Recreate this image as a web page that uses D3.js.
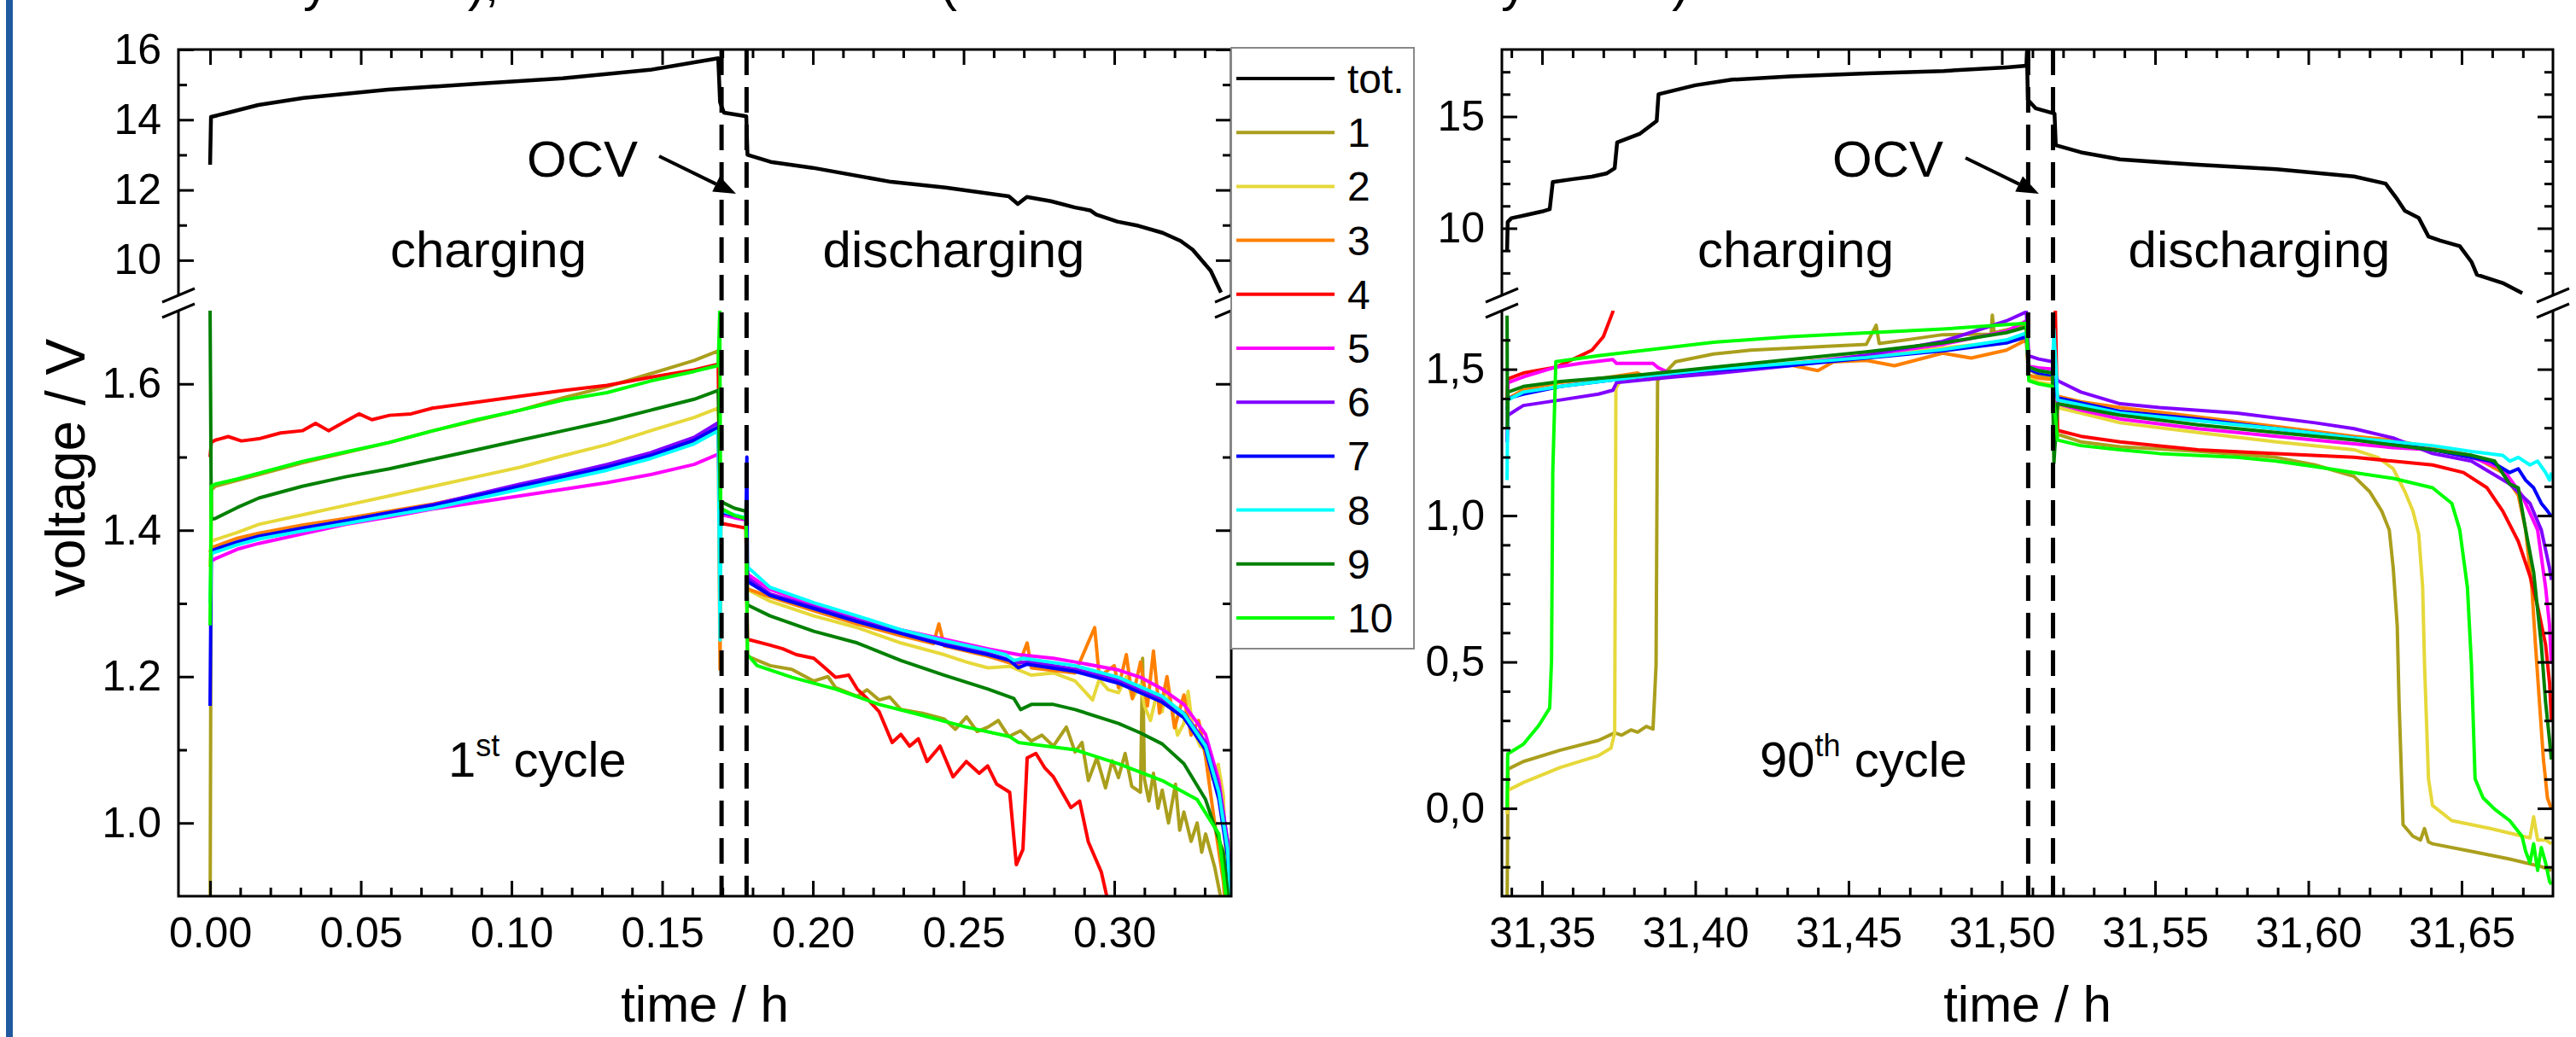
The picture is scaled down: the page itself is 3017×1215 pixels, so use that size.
<!DOCTYPE html>
<html>
<head>
<meta charset="utf-8">
<script src="https://cdn.jsdelivr.net/npm/d3@7"></script>
<style>
  body { margin: 0; background: #fff; }
  svg { display: block; }
</style>
</head>
<body>
<svg id="chart" width="3017" height="1215"></svg>
<script>
// ---- data: [time / h, voltage / V] ----
const cellNames = ["1", "2", "3", "4", "5", "6", "7", "8", "9", "10"];
const cellColors = ["#aa9f1d", "#e6d83a", "#ff8000", "#ff0000", "#ff00ff", "#8000ff", "#0000ff", "#00ffff", "#008000", "#00ff00"];

// 1st cycle
const c1Total = [[0,12.72],[0.0003,14.08],[0.006,14.2],[0.016,14.42],[0.031,14.62],[0.059,14.86],[0.088,15.02],[0.117,15.18],[0.146,15.42],[0.1686,15.75],[0.1692,14.5],[0.1705,14.2],[0.1779,14.1],[0.1783,13.0],[0.186,12.8],[0.2,12.63],[0.226,12.23],[0.244,12.07],[0.265,11.82],[0.268,11.6],[0.271,11.8],[0.279,11.68],[0.287,11.5],[0.292,11.42],[0.294,11.3],[0.301,11.1],[0.308,10.98],[0.316,10.78],[0.322,10.55],[0.326,10.3],[0.332,9.7],[0.3354,9.08]];
const c1Cell1 = [[0,0.85],[0.0004,1.455],[0.0017,1.46],[0.0162,1.476],[0.0306,1.492],[0.045,1.506],[0.0595,1.52],[0.074,1.536],[0.0884,1.55],[0.1028,1.564],[0.1173,1.581],[0.1317,1.596],[0.1462,1.614],[0.1606,1.632],[0.1686,1.645],[0.1693,1.425],[0.17,1.424],[0.174,1.419],[0.1778,1.415],[0.1783,1.228],[0.1858,1.215],[0.193,1.21],[0.2003,1.194],[0.205,1.2],[0.2075,1.185],[0.2147,1.173],[0.218,1.182],[0.222,1.168],[0.2255,1.172],[0.2292,1.155],[0.2364,1.15],[0.2436,1.142],[0.2473,1.128],[0.251,1.145],[0.2545,1.125],[0.2581,1.131],[0.2615,1.14],[0.265,1.118],[0.2689,1.126],[0.2725,1.112],[0.276,1.12],[0.2798,1.105],[0.2841,1.131],[0.287,1.097],[0.2893,1.11],[0.2914,1.058],[0.2942,1.089],[0.2971,1.048],[0.2993,1.085],[0.3014,1.062],[0.3036,1.095],[0.3058,1.05],[0.3087,1.042],[0.3094,1.225],[0.31,1.06],[0.3115,1.03],[0.313,1.068],[0.3145,1.02],[0.3159,1.045],[0.318,1.0],[0.3203,1.053],[0.3217,0.99],[0.3231,1.015],[0.3255,0.975],[0.3275,1.0],[0.329,0.96],[0.3303,0.985],[0.3333,0.94],[0.3362,0.88]];
const c1Cell2 = [[0,1.35],[0.0004,1.385],[0.0017,1.387],[0.009,1.397],[0.0162,1.408],[0.0306,1.421],[0.045,1.434],[0.0595,1.447],[0.074,1.46],[0.0884,1.473],[0.1028,1.486],[0.1173,1.502],[0.1317,1.517],[0.1462,1.536],[0.1606,1.554],[0.1686,1.567],[0.1693,1.425],[0.17,1.424],[0.174,1.419],[0.1778,1.415],[0.1783,1.319],[0.1858,1.303],[0.2003,1.283],[0.2147,1.267],[0.2292,1.246],[0.2436,1.23],[0.2509,1.22],[0.2581,1.212],[0.2653,1.214],[0.2725,1.202],[0.2798,1.205],[0.287,1.194],[0.2928,1.168],[0.295,1.196],[0.298,1.182],[0.3014,1.178],[0.304,1.2],[0.306,1.17],[0.3087,1.189],[0.31,1.16],[0.312,1.14],[0.314,1.175],[0.3159,1.152],[0.317,1.185],[0.319,1.16],[0.321,1.12],[0.3231,1.136],[0.3245,1.18],[0.326,1.13],[0.3285,1.105],[0.3303,1.1],[0.3325,1.06],[0.3345,1.08],[0.3362,1.037],[0.3376,0.88]];
const c1Cell3 = [[0,1.37],[0.0004,1.376],[0.0017,1.378],[0.009,1.389],[0.0162,1.396],[0.0306,1.407],[0.045,1.416],[0.0595,1.426],[0.074,1.436],[0.0884,1.448],[0.1028,1.46],[0.1173,1.472],[0.1317,1.485],[0.1462,1.501],[0.1606,1.521],[0.1686,1.54],[0.1692,1.21],[0.1695,1.425],[0.17,1.424],[0.174,1.419],[0.1778,1.415],[0.1783,1.32],[0.1858,1.309],[0.2003,1.29],[0.2147,1.272],[0.2292,1.256],[0.24,1.245],[0.2418,1.272],[0.2436,1.242],[0.2581,1.228],[0.2682,1.215],[0.2711,1.246],[0.2725,1.212],[0.287,1.205],[0.2935,1.267],[0.295,1.2],[0.3,1.215],[0.3014,1.185],[0.304,1.23],[0.306,1.17],[0.3087,1.22],[0.311,1.16],[0.313,1.235],[0.315,1.15],[0.3175,1.2],[0.32,1.13],[0.3231,1.175],[0.3255,1.12],[0.328,1.14],[0.3303,1.09],[0.3333,1.0],[0.3362,0.92],[0.337,0.88]];
const c1Cell4 = [[0,1.5],[0.0004,1.52],[0.0017,1.523],[0.006,1.528],[0.0104,1.522],[0.0162,1.525],[0.0234,1.533],[0.0306,1.536],[0.035,1.546],[0.0393,1.536],[0.045,1.549],[0.0494,1.559],[0.0537,1.551],[0.0595,1.557],[0.0667,1.559],[0.074,1.567],[0.0884,1.575],[0.1028,1.583],[0.1173,1.591],[0.1317,1.598],[0.1462,1.609],[0.1606,1.619],[0.1686,1.627],[0.1693,1.41],[0.17,1.409],[0.174,1.406],[0.1778,1.403],[0.1783,1.251],[0.1858,1.243],[0.19,1.238],[0.1945,1.23],[0.2003,1.225],[0.204,1.212],[0.2075,1.199],[0.2119,1.202],[0.2147,1.183],[0.218,1.17],[0.222,1.152],[0.2263,1.11],[0.2292,1.121],[0.2321,1.105],[0.235,1.115],[0.2379,1.084],[0.2422,1.105],[0.2465,1.063],[0.2509,1.084],[0.2552,1.068],[0.258,1.078],[0.261,1.053],[0.2653,1.042],[0.2675,0.943],[0.2697,0.964],[0.2711,1.089],[0.274,1.095],[0.277,1.075],[0.2798,1.063],[0.2856,1.021],[0.2885,1.03],[0.2914,0.974],[0.2957,0.933],[0.2986,0.88]];
const c1Cell5 = [[0,1.36],[0.0004,1.358],[0.0017,1.361],[0.009,1.374],[0.0162,1.382],[0.0306,1.395],[0.045,1.408],[0.0595,1.418],[0.074,1.429],[0.0884,1.438],[0.1028,1.447],[0.1173,1.456],[0.1317,1.465],[0.1462,1.476],[0.1606,1.49],[0.1686,1.504],[0.1693,1.422],[0.17,1.421],[0.174,1.417],[0.1778,1.414],[0.1783,1.34],[0.1858,1.319],[0.2003,1.298],[0.2147,1.28],[0.2292,1.264],[0.2436,1.251],[0.2581,1.238],[0.2682,1.23],[0.2798,1.225],[0.287,1.22],[0.3014,1.209],[0.3087,1.199],[0.3159,1.183],[0.3231,1.162],[0.3303,1.121],[0.3347,1.058],[0.3376,0.974],[0.3385,0.88]];
const c1Cell6 = [[0,1.37],[0.0004,1.37],[0.0017,1.372],[0.009,1.383],[0.0162,1.391],[0.0306,1.402],[0.045,1.413],[0.0595,1.424],[0.074,1.435],[0.0884,1.449],[0.1028,1.463],[0.1173,1.476],[0.1317,1.49],[0.1462,1.506],[0.1606,1.527],[0.1686,1.547],[0.1693,1.425],[0.17,1.424],[0.174,1.42],[0.1778,1.416],[0.1783,1.335],[0.1858,1.313],[0.2003,1.295],[0.2147,1.277],[0.2292,1.261],[0.2436,1.245],[0.2581,1.232],[0.2682,1.219],[0.2725,1.22],[0.287,1.21],[0.3014,1.195],[0.3159,1.17],[0.3231,1.15],[0.3303,1.11],[0.3347,1.05],[0.3376,0.975],[0.339,0.88]];
const c1Cell7 = [[0,1.16],[0.0004,1.372],[0.0017,1.374],[0.009,1.384],[0.0162,1.392],[0.0306,1.403],[0.045,1.413],[0.0595,1.424],[0.074,1.434],[0.0884,1.447],[0.1028,1.46],[0.1173,1.473],[0.1317,1.486],[0.1462,1.502],[0.1606,1.523],[0.1686,1.541],[0.1693,1.425],[0.17,1.424],[0.174,1.42],[0.1778,1.416],[0.1781,1.5],[0.1783,1.33],[0.1858,1.311],[0.2003,1.293],[0.2147,1.275],[0.2292,1.259],[0.2436,1.243],[0.2581,1.23],[0.2653,1.222],[0.2682,1.212],[0.2711,1.217],[0.287,1.207],[0.3014,1.191],[0.3159,1.165],[0.3231,1.144],[0.3303,1.1],[0.3347,1.032],[0.3376,0.954],[0.3383,0.88]];
const c1Cell8 = [[0,1.3],[0.0004,1.368],[0.0017,1.37],[0.009,1.38],[0.0162,1.388],[0.0306,1.399],[0.045,1.409],[0.0595,1.42],[0.074,1.43],[0.0884,1.443],[0.1028,1.456],[0.1173,1.469],[0.1317,1.482],[0.1462,1.498],[0.1606,1.518],[0.1686,1.536],[0.1692,1.25],[0.1695,1.427],[0.17,1.426],[0.174,1.421],[0.1778,1.417],[0.1783,1.35],[0.1858,1.322],[0.2003,1.301],[0.2147,1.283],[0.2292,1.264],[0.2436,1.249],[0.2581,1.236],[0.2639,1.23],[0.2668,1.222],[0.2697,1.225],[0.287,1.215],[0.3014,1.199],[0.3159,1.173],[0.3231,1.149],[0.3303,1.105],[0.3347,1.042],[0.3376,0.964],[0.3388,0.88]];
const c1Cell9 = [[0,1.7],[0.0004,1.415],[0.0017,1.416],[0.009,1.431],[0.0162,1.444],[0.0306,1.46],[0.045,1.473],[0.0595,1.484],[0.074,1.497],[0.0884,1.51],[0.1028,1.523],[0.1173,1.536],[0.1317,1.549],[0.1462,1.564],[0.1606,1.579],[0.1686,1.591],[0.1693,1.44],[0.17,1.438],[0.174,1.43],[0.1778,1.426],[0.1783,1.298],[0.1858,1.283],[0.2003,1.262],[0.2147,1.246],[0.2292,1.222],[0.2436,1.202],[0.2581,1.183],[0.2667,1.17],[0.2689,1.155],[0.2725,1.162],[0.2798,1.162],[0.287,1.155],[0.3014,1.136],[0.3087,1.123],[0.3159,1.108],[0.3231,1.081],[0.3303,1.032],[0.3362,0.959],[0.3383,0.88]];
const c1Cell10 = [[0,1.27],[0.0004,1.46],[0.0017,1.463],[0.009,1.47],[0.0162,1.478],[0.0306,1.494],[0.045,1.507],[0.0595,1.52],[0.074,1.536],[0.0884,1.551],[0.1028,1.564],[0.1173,1.578],[0.1317,1.588],[0.1462,1.604],[0.1606,1.617],[0.1686,1.625],[0.1691,1.7],[0.1694,1.43],[0.17,1.429],[0.174,1.42],[0.1778,1.416],[0.1783,1.23],[0.1815,1.215],[0.1931,1.199],[0.2075,1.183],[0.222,1.162],[0.2364,1.147],[0.2509,1.131],[0.2653,1.118],[0.2682,1.11],[0.287,1.1],[0.3014,1.081],[0.3159,1.058],[0.3275,1.032],[0.3347,0.985],[0.3376,0.88]];

// 90th cycle
const c90Total = [[31.3386,9.02],[31.3388,10.28],[31.34,10.45],[31.345,10.6],[31.35,10.75],[31.3525,10.85],[31.3535,12.07],[31.36,12.2],[31.3662,12.31],[31.371,12.45],[31.3737,12.69],[31.3745,13.84],[31.3818,14.22],[31.3874,14.8],[31.388,16.0],[31.4,16.4],[31.412,16.65],[31.431,16.8],[31.456,16.93],[31.481,17.04],[31.5015,17.2],[31.508,17.27],[31.5082,17.9],[31.5085,15.75],[31.511,15.37],[31.5172,15.13],[31.5176,13.72],[31.5258,13.4],[31.5386,13.08],[31.564,12.84],[31.5896,12.64],[31.6149,12.32],[31.6252,12.0],[31.629,11.3],[31.6315,10.78],[31.636,10.47],[31.6392,9.63],[31.643,9.45],[31.6494,9.2],[31.6532,8.5],[31.655,7.92],[31.6634,7.55],[31.6698,7.1]];
const c90Cell1 = [[31.3386,-0.35],[31.3389,0.134],[31.3439,0.16],[31.356,0.199],[31.3684,0.232],[31.3737,0.258],[31.376,0.25],[31.379,0.268],[31.3812,0.26],[31.384,0.28],[31.3862,0.271],[31.3868,0.4],[31.3872,0.49],[31.3877,1.461],[31.3936,1.526],[31.406,1.552],[31.418,1.565],[31.4308,1.572],[31.443,1.578],[31.4558,1.585],[31.459,1.65],[31.46,1.588],[31.47,1.602],[31.4807,1.618],[31.4965,1.62],[31.4969,1.685],[31.4975,1.625],[31.508,1.65],[31.5088,1.5],[31.512,1.48],[31.5165,1.474],[31.5182,1.278],[31.5258,1.252],[31.5386,1.235],[31.564,1.22],[31.5895,1.199],[31.6022,1.173],[31.6149,1.134],[31.62,1.082],[31.6239,1.016],[31.6264,0.951],[31.6277,0.82],[31.629,0.624],[31.6296,0.363],[31.6309,-0.056],[31.6341,-0.095],[31.6366,-0.108],[31.6379,-0.069],[31.6392,-0.115],[31.6405,-0.121],[31.6532,-0.147],[31.6657,-0.173],[31.676,-0.199],[31.6793,-0.212]];
const c90Cell2 = [[31.3386,-0.02],[31.3389,0.062],[31.3439,0.088],[31.356,0.14],[31.3684,0.18],[31.3725,0.206],[31.3737,0.258],[31.3741,1.435],[31.3756,1.461],[31.3936,1.48],[31.406,1.495],[31.4308,1.52],[31.4558,1.545],[31.4807,1.572],[31.4876,1.58],[31.5015,1.595],[31.508,1.605],[31.5088,1.474],[31.512,1.455],[31.5165,1.448],[31.5182,1.369],[31.5258,1.35],[31.5386,1.317],[31.564,1.284],[31.5895,1.252],[31.6149,1.225],[31.6226,1.199],[31.6277,1.16],[31.6315,1.082],[31.6341,1.016],[31.636,0.938],[31.6373,0.755],[31.6379,0.493],[31.6392,0.101],[31.6405,0.01],[31.6468,-0.042],[31.6594,-0.069],[31.6723,-0.101],[31.6735,-0.029],[31.6748,-0.108],[31.6774,-0.108],[31.6793,-0.121]];
const c90Cell3 = [[31.3386,1.38],[31.3389,1.4],[31.3439,1.43],[31.356,1.455],[31.37,1.47],[31.3812,1.487],[31.385,1.465],[31.39,1.49],[31.406,1.5],[31.42,1.51],[31.4308,1.515],[31.44,1.495],[31.445,1.525],[31.4558,1.53],[31.465,1.512],[31.4807,1.555],[31.49,1.538],[31.5015,1.565],[31.508,1.6],[31.5088,1.48],[31.512,1.47],[31.5165,1.465],[31.5182,1.408],[31.5258,1.389],[31.5386,1.369],[31.564,1.337],[31.5895,1.304],[31.6149,1.271],[31.6277,1.258],[31.6405,1.232],[31.6532,1.206],[31.6634,1.147],[31.6685,1.069],[31.6709,0.951],[31.6729,0.755],[31.6741,0.559],[31.6754,0.363],[31.6767,0.167],[31.678,0.036],[31.6793,-0.003]];
const c90Cell4 = [[31.3386,1.4],[31.3389,1.467],[31.3439,1.487],[31.3545,1.507],[31.3625,1.546],[31.3663,1.565],[31.37,1.611],[31.3731,1.696],[31.3745,1.85],[31.5172,1.85],[31.5182,1.291],[31.5258,1.271],[31.5386,1.252],[31.564,1.225],[31.5895,1.212],[31.6149,1.199],[31.6277,1.186],[31.6405,1.173],[31.6506,1.147],[31.6583,1.095],[31.6634,1.016],[31.6685,0.912],[31.6723,0.794],[31.6748,0.69],[31.6774,0.559],[31.6787,0.428],[31.6793,0.3]];
const c90Cell5 = [[31.3386,1.25],[31.3389,1.454],[31.3439,1.474],[31.3545,1.507],[31.3625,1.52],[31.3731,1.533],[31.3743,1.52],[31.3862,1.52],[31.3879,1.505],[31.3936,1.478],[31.406,1.49],[31.4308,1.518],[31.4558,1.548],[31.4807,1.585],[31.5015,1.63],[31.508,1.665],[31.5088,1.51],[31.512,1.505],[31.5165,1.5],[31.5182,1.382],[31.5258,1.36],[31.5386,1.33],[31.564,1.297],[31.5895,1.271],[31.6149,1.245],[31.6277,1.232],[31.6405,1.225],[31.6532,1.199],[31.6634,1.16],[31.6697,1.069],[31.6748,0.951],[31.6774,0.755],[31.6787,0.624],[31.6793,0.493]];
const c90Cell6 = [[31.3386,1.252],[31.3389,1.343],[31.3439,1.376],[31.356,1.395],[31.3684,1.415],[31.3731,1.428],[31.3743,1.454],[31.3862,1.467],[31.3936,1.474],[31.406,1.485],[31.4308,1.512],[31.4558,1.548],[31.4807,1.595],[31.5015,1.665],[31.508,1.696],[31.5088,1.546],[31.512,1.535],[31.5165,1.526],[31.5182,1.461],[31.5258,1.422],[31.5386,1.382],[31.5514,1.369],[31.5767,1.35],[31.6022,1.317],[31.6149,1.297],[31.6277,1.265],[31.6405,1.212],[31.6532,1.186],[31.6657,1.108],[31.6723,1.042],[31.676,0.951],[31.6787,0.82],[31.6793,0.78]];
const c90Cell7 = [[31.3386,1.36],[31.3389,1.4],[31.3439,1.415],[31.356,1.441],[31.3812,1.474],[31.406,1.497],[31.4308,1.513],[31.4558,1.538],[31.4807,1.563],[31.5015,1.59],[31.508,1.611],[31.5088,1.5],[31.512,1.487],[31.5165,1.48],[31.5182,1.402],[31.5386,1.356],[31.564,1.33],[31.5895,1.297],[31.6149,1.265],[31.6405,1.225],[31.6594,1.186],[31.6657,1.147],[31.6685,1.16],[31.6709,1.121],[31.6735,1.095],[31.676,1.042],[31.678,1.016],[31.6793,0.997]];
const c90Cell8 = [[31.3386,1.121],[31.3388,1.395],[31.3439,1.422],[31.356,1.441],[31.3812,1.474],[31.406,1.5],[31.4308,1.52],[31.4558,1.54],[31.4807,1.567],[31.5015,1.6],[31.508,1.624],[31.5088,1.507],[31.512,1.495],[31.5165,1.487],[31.517,1.637],[31.5182,1.395],[31.5386,1.35],[31.564,1.324],[31.5895,1.297],[31.6149,1.265],[31.6405,1.239],[31.6532,1.219],[31.6634,1.206],[31.6657,1.186],[31.6685,1.199],[31.6723,1.173],[31.6748,1.186],[31.6774,1.147],[31.6787,1.121],[31.6793,1.147]];
const c90Cell9 = [[31.3386,1.683],[31.3387,1.304],[31.3389,1.422],[31.3439,1.441],[31.356,1.458],[31.3812,1.48],[31.406,1.507],[31.4308,1.533],[31.4558,1.559],[31.4807,1.59],[31.5015,1.625],[31.508,1.644],[31.5088,1.507],[31.512,1.495],[31.5165,1.487],[31.517,1.18],[31.5182,1.382],[31.5386,1.343],[31.564,1.31],[31.5895,1.284],[31.6149,1.258],[31.6405,1.225],[31.6532,1.206],[31.6608,1.186],[31.6657,1.108],[31.6685,1.095],[31.6709,0.951],[31.6735,0.807],[31.676,0.559],[31.6774,0.363],[31.6787,0.232],[31.6793,0.167]];
const c90Cell10 = [[31.3386,0.0],[31.3388,0.186],[31.3439,0.219],[31.349,0.284],[31.3525,0.343],[31.3531,0.506],[31.3535,1.147],[31.3545,1.526],[31.3684,1.546],[31.406,1.592],[31.4308,1.611],[31.4558,1.624],[31.4807,1.637],[31.508,1.657],[31.5088,1.461],[31.512,1.45],[31.5165,1.441],[31.5182,1.258],[31.5258,1.239],[31.5386,1.225],[31.5514,1.212],[31.5767,1.199],[31.5895,1.186],[31.6022,1.167],[31.6149,1.147],[31.6277,1.127],[31.6405,1.095],[31.6468,1.042],[31.6494,0.951],[31.6519,0.755],[31.6532,0.493],[31.6544,0.101],[31.657,0.036],[31.6608,-0.003],[31.6657,-0.042],[31.6697,-0.095],[31.6709,-0.147],[31.6723,-0.186],[31.6735,-0.121],[31.6748,-0.212],[31.676,-0.134],[31.6774,-0.186],[31.6787,-0.25],[31.6793,-0.26]];

// tick labels / axis values
const c1TimeTicks = [0, 0.05, 0.10, 0.15, 0.20, 0.25, 0.30];
const c1TotTicks = [10, 12, 14, 16];
const c1CellTicks = [1.0, 1.2, 1.4, 1.6];
const c90TimeTicks = [31.35, 31.40, 31.45, 31.50, 31.55, 31.60, 31.65];
const c90TotTicks = [10, 15];
const c90CellTicks = [0.0, 0.5, 1.0, 1.5];
const c1OcvTimes = [0.1697, 0.1780];
const c90OcvTimes = [31.5086, 31.5167];

// ---- layout ----
const FONT = '"Liberation Sans", Arial, Helvetica, sans-serif';
const TOP = 58, BREAK_UP = 346, BREAK_LO = 364, BOTTOM = 1050;
const svg = d3.select("#chart");
const defs = svg.append("defs");

const comma = f => d => d3.format(f)(d).replace(".", ",");
const minorOf = (lo, hi, step, majors) =>
  d3.range(Math.round(lo / step), Math.round(hi / step) + 1).map(i => +(i * step).toFixed(4))
    .filter(v => !majors.some(m => Math.abs(m - v) < step / 10));

const panels = [
  {
    id: "p1", left: 209, right: 1442, xDomain: [-0.0105, 0.3388],
    upDomain: [9, 16], loDomain: [0.9, 1.7],
    total: c1Total, cells: [c1Cell1, c1Cell2, c1Cell3, c1Cell4, c1Cell5, c1Cell6, c1Cell7, c1Cell8, c1Cell9, c1Cell10],
    xMajor: c1TimeTicks, xMinor: minorOf(0.01, 0.33, 0.01, c1TimeTicks), xFmt: d3.format(".2f"),
    upMajor: c1TotTicks, upMinor: [11, 13, 15], upFmt: d3.format("d"),
    loMajor: c1CellTicks, loMinor: [1.1, 1.3, 1.5], loFmt: d3.format(".1f"),
    ocv: c1OcvTimes
  },
  {
    id: "p2", left: 1759, right: 2990, xDomain: [31.3369, 31.6798],
    upDomain: [7, 18], loDomain: [-0.3, 1.7],
    total: c90Total, cells: [c90Cell1, c90Cell2, c90Cell3, c90Cell4, c90Cell5, c90Cell6, c90Cell7, c90Cell8, c90Cell9, c90Cell10],
    xMajor: c90TimeTicks, xMinor: minorOf(31.34, 31.67, 0.01, c90TimeTicks), xFmt: comma(".2f"),
    upMajor: c90TotTicks, upMinor: [8, 9, 11, 12, 13, 14, 16, 17], upFmt: d3.format("d"),
    loMajor: c90CellTicks, loMinor: minorOf(-0.2, 1.6, 0.1, c90CellTicks), loFmt: comma(".1f"),
    ocv: c90OcvTimes
  }
];

function styleAxis(sel) {
  sel.select(".domain").remove();
  sel.selectAll(".tick line").attr("stroke", "#000").attr("stroke-width", 3);
  sel.selectAll(".tick text").attr("font-size", 50).attr("font-family", FONT).attr("fill", "#000");
}

function breakMark(g, ax) {
  g.append("polygon")
    .attr("points", [[ax - 19, BREAK_UP + 8], [ax + 19, BREAK_UP - 8], [ax + 19, BREAK_LO - 8], [ax - 19, BREAK_LO + 8]].join(" "))
    .attr("fill", "#fff");
  [BREAK_UP, BREAK_LO].forEach(y => g.append("line")
    .attr("x1", ax - 19).attr("y1", y + 8).attr("x2", ax + 19).attr("y2", y - 8)
    .attr("stroke", "#000").attr("stroke-width", 3));
}

function drawPanel(p) {
  const x = d3.scaleLinear().domain(p.xDomain).range([p.left, p.right]);
  const yUp = d3.scaleLinear().domain(p.upDomain).range([BREAK_UP, TOP]);
  const yLo = d3.scaleLinear().domain(p.loDomain).range([BOTTOM, BREAK_LO]);

  defs.append("clipPath").attr("id", p.id + "up").append("rect")
    .attr("x", p.left).attr("y", TOP).attr("width", p.right - p.left).attr("height", BREAK_UP - TOP);
  defs.append("clipPath").attr("id", p.id + "lo").append("rect")
    .attr("x", p.left).attr("y", BREAK_LO).attr("width", p.right - p.left).attr("height", BOTTOM - BREAK_LO);

  const g = svg.append("g");
  const lineLo = d3.line().x(d => x(d[0])).y(d => yLo(d[1]));
  const lineUp = d3.line().x(d => x(d[0])).y(d => yUp(d[1]));

  const cg = g.append("g").attr("clip-path", `url(#${p.id}lo)`);
  p.cells.forEach((s, i) => cg.append("path").attr("d", lineLo(s))
    .attr("fill", "none").attr("stroke", cellColors[i]).attr("stroke-width", 4)
    .attr("stroke-linejoin", "round"));

  g.append("g").attr("clip-path", `url(#${p.id}up)`).append("path").attr("d", lineUp(p.total))
    .attr("fill", "none").attr("stroke", "#000").attr("stroke-width", 4.5).attr("stroke-linejoin", "round");

  p.ocv.forEach(t => g.append("line")
    .attr("x1", x(t)).attr("x2", x(t)).attr("y1", TOP).attr("y2", BOTTOM)
    .attr("stroke", "#000").attr("stroke-width", 5).attr("stroke-dasharray", "30,14"));

  // axes: major and minor ticks, all pointing inward
  const ax = () => g.append("g");
  ax().attr("transform", `translate(0,${BOTTOM})`)
    .call(d3.axisBottom(x).tickValues(p.xMajor).tickSize(-18).tickPadding(24).tickFormat(p.xFmt)).call(styleAxis);
  ax().attr("transform", `translate(0,${BOTTOM})`)
    .call(d3.axisBottom(x).tickValues(p.xMinor).tickSize(-10).tickFormat("")).call(styleAxis);
  ax().attr("transform", `translate(0,${TOP})`)
    .call(d3.axisTop(x).tickValues(p.xMajor).tickSize(-18).tickFormat("")).call(styleAxis);
  ax().attr("transform", `translate(0,${TOP})`)
    .call(d3.axisTop(x).tickValues(p.xMinor).tickSize(-10).tickFormat("")).call(styleAxis);

  [[yUp, p.upMajor, p.upMinor, p.upFmt], [yLo, p.loMajor, p.loMinor, p.loFmt]].forEach(([y, maj, min, fmt]) => {
    ax().attr("transform", `translate(${p.left},0)`)
      .call(d3.axisLeft(y).tickValues(maj).tickSize(-18).tickPadding(20).tickFormat(fmt)).call(styleAxis);
    ax().attr("transform", `translate(${p.left},0)`)
      .call(d3.axisLeft(y).tickValues(min).tickSize(-10).tickFormat("")).call(styleAxis);
    ax().attr("transform", `translate(${p.right},0)`)
      .call(d3.axisRight(y).tickValues(maj).tickSize(-18).tickFormat("")).call(styleAxis);
    ax().attr("transform", `translate(${p.right},0)`)
      .call(d3.axisRight(y).tickValues(min).tickSize(-10).tickFormat("")).call(styleAxis);
  });

  // frame
  g.append("rect").attr("x", p.left).attr("y", TOP).attr("width", p.right - p.left).attr("height", BOTTOM - TOP)
    .attr("fill", "none").attr("stroke", "#000").attr("stroke-width", 3);
  breakMark(g, p.left);
  breakMark(g, p.right);

  g.append("text").attr("x", (p.left + p.right) / 2).attr("y", 1197)
    .attr("text-anchor", "middle").attr("font-size", 60).attr("font-family", FONT).text("time / h");
}

panels.forEach(drawPanel);

// ---- annotations ----
function label(x, y, txt, size = 60) {
  return svg.append("text").attr("x", x).attr("y", y).attr("text-anchor", "middle")
    .attr("font-size", size).attr("font-family", FONT).text(txt);
}
label(572, 313, "charging");
label(1117, 313, "discharging");
label(2103, 313, "charging");
label(2646, 313, "discharging");
label(682, 207, "OCV");
label(2211, 207, "OCV");

function arrow(x1, y1, x2, y2) {
  const dx = x2 - x1, dy = y2 - y1, len = Math.hypot(dx, dy), ux = dx / len, uy = dy / len;
  const bx = x2 - 26 * ux, by = y2 - 26 * uy;
  svg.append("line").attr("x1", x1).attr("y1", y1).attr("x2", bx).attr("y2", by)
    .attr("stroke", "#000").attr("stroke-width", 4);
  svg.append("polygon").attr("fill", "#000")
    .attr("points", [[x2, y2], [bx - 10 * uy, by + 10 * ux], [bx + 10 * uy, by - 10 * ux]].join(" "));
}
arrow(772, 183, 862, 227);
arrow(2302, 185, 2388, 227);

function cycleLabel(x, y, num, sup) {
  const t = svg.append("text").attr("x", x).attr("y", y).attr("font-size", 58).attr("font-family", FONT);
  t.append("tspan").text(num);
  t.append("tspan").attr("dy", -24).attr("font-size", 36).text(sup);
  t.append("tspan").attr("dy", 24).text(" cycle");
}
cycleLabel(525, 910, "1", "st");
cycleLabel(2061, 910, "90", "th");

svg.append("text").attr("transform", "translate(99,548) rotate(-90)").attr("text-anchor", "middle")
  .attr("font-size", 64).attr("font-family", FONT).text("voltage / V");

// ---- legend ----
const lg = svg.append("g");
lg.append("rect").attr("x", 1442).attr("y", 56).attr("width", 214).attr("height", 704)
  .attr("fill", "#fff").attr("stroke", "#888").attr("stroke-width", 2);
["tot."].concat(cellNames).forEach((name, i) => {
  const y = 92 + i * 63.2;
  lg.append("line").attr("x1", 1448).attr("x2", 1563).attr("y1", y).attr("y2", y)
    .attr("stroke", i === 0 ? "#000" : cellColors[i - 1]).attr("stroke-width", 4);
  lg.append("text").attr("x", 1578).attr("y", y + 17).attr("font-size", 48)
    .attr("font-family", FONT).text(name);
});

// ---- page furniture: blue margin bar and the cut-off caption line above ----
svg.append("rect").attr("x", 7).attr("y", 0).attr("width", 8).attr("height", 1215).attr("fill", "#1f5aa0");
[[370, "y"], [566, "),"], [1111, "("], [1773, "y"], [1968, ")"]].forEach(([cx, s]) =>
  svg.append("text").attr("x", cx).attr("y", 1).attr("text-anchor", "middle")
    .attr("font-size", 60).attr("font-family", FONT).text(s));
</script>
</body>
</html>
